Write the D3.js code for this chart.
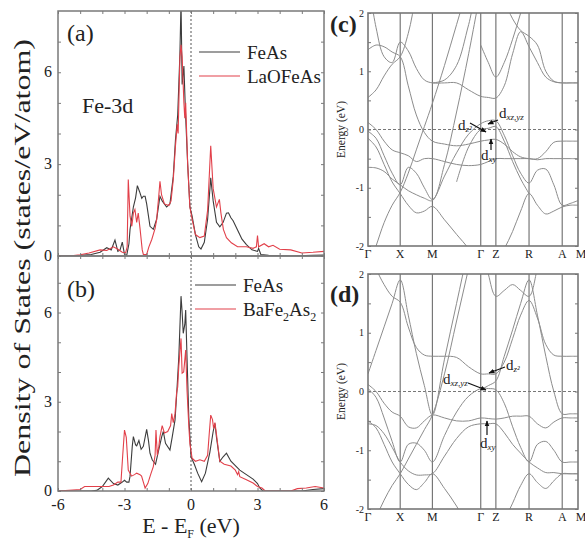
<!DOCTYPE html>
<html><head><meta charset="utf-8">
<script src="https://cdn.jsdelivr.net/npm/d3@7"></script>
<style>
body{margin:0;background:#fff}
svg{display:block}
text{font-family:"Liberation Serif","Times New Roman",serif;fill:#222}
</style></head><body>
<svg id="fig" width="585" height="540"></svg>
<script>
// ---------------- DATA ----------------
// Density of states, [E - E_F (eV), states/eV/atom]
const dosFeAsA = [[-6,0],[-5.5,0],[-5.0,0.02],[-4.5,0.05],[-4.1,0.12],[-3.8,0.27],[-3.6,0.2],[-3.43,0.52],[-3.3,0.15],[-3.2,0.2],[-3.1,0.45],[-3.0,0.05],[-2.9,0.02],[-2.8,0.4],[-2.75,0.87],[-2.6,1.6],[-2.5,1.9],[-2.42,2.3],[-2.32,2.1],[-2.22,1.88],[-2.15,1.95],[-2.07,1.95],[-2.0,1.7],[-1.85,0.97],[-1.7,0.87],[-1.55,1.2],[-1.4,1.95],[-1.3,1.8],[-1.1,1.6],[-0.95,1.7],[-0.8,2.6],[-0.7,3.8],[-0.6,4.6],[-0.5,6.6],[-0.45,8.3],[-0.4,5.6],[-0.32,6.2],[-0.25,4.7],[-0.15,3.0],[-0.05,1.6],[0.05,1.3],[0.2,0.7],[0.35,0.3],[0.45,0.23],[0.6,0.45],[0.75,1.2],[0.89,2.55],[1.0,1.8],[1.15,1.1],[1.3,0.95],[1.45,1.1],[1.6,1.4],[1.69,1.41],[1.8,1.25],[1.9,1.15],[2.1,0.85],[2.3,0.55],[2.5,0.37],[2.75,0.2],[3.0,0.15],[3.05,0.25],[3.15,0.05],[3.5,0.02],[4.5,0],[5.5,0.02],[6,0.03]];
const dosLaOFeAs = [[-6,0],[-5.5,0],[-5.0,0.04],[-4.6,0.1],[-4.1,0.2],[-3.8,0.18],[-3.5,0.3],[-3.3,0.22],[-3.1,0.12],[-2.95,0.1],[-2.88,0.3],[-2.83,2.5],[-2.75,1.3],[-2.67,0.97],[-2.6,1.4],[-2.53,1.52],[-2.45,1.1],[-2.38,1.4],[-2.3,0.9],[-2.2,0.2],[-2.15,0.05],[-2.0,0.05],[-1.9,0.3],[-1.77,0.54],[-1.62,0.9],[-1.55,1.19],[-1.45,2.0],[-1.4,2.44],[-1.33,2.0],[-1.2,1.7],[-1.0,1.65],[-0.9,1.8],[-0.8,2.5],[-0.7,3.6],[-0.62,4.3],[-0.58,4.0],[-0.5,6.5],[-0.45,6.9],[-0.4,6.5],[-0.32,5.0],[-0.28,4.5],[-0.24,5.0],[-0.15,3.0],[-0.05,1.6],[0.05,1.2],[0.2,0.7],[0.4,0.6],[0.6,0.65],[0.75,1.5],[0.89,3.6],[1.0,2.2],[1.15,1.6],[1.28,1.85],[1.35,1.4],[1.46,0.87],[1.6,0.6],[1.82,0.43],[2.1,0.3],[2.5,0.3],[2.8,0.25],[2.95,0.3],[3.0,0.67],[3.05,0.3],[3.3,0.4],[3.5,0.3],[3.7,0.35],[4.0,0.22],[4.5,0.2],[5.0,0.1],[5.5,0.12],[6.0,0.15]];
const dosFeAsB = [[-6,0],[-4.5,0],[-4.25,0.02],[-4.0,0.15],[-3.73,0.43],[-3.5,0.25],[-3.3,0.2],[-3.1,0.3],[-3.0,0.36],[-2.9,0.3],[-2.8,0.3],[-2.75,0.5],[-2.65,1.5],[-2.6,1.83],[-2.5,1.55],[-2.45,1.52],[-2.35,1.7],[-2.25,1.4],[-2.15,1.5],[-2.0,2.07],[-1.92,1.7],[-1.85,1.27],[-1.75,1.05],[-1.6,0.9],[-1.45,1.4],[-1.32,1.83],[-1.25,2.0],[-1.15,1.6],[-0.95,1.38],[-0.85,1.8],[-0.72,2.39],[-0.65,3.2],[-0.55,4.5],[-0.45,6.55],[-0.4,6.0],[-0.35,5.3],[-0.28,5.6],[-0.24,6.08],[-0.18,4.5],[-0.1,2.5],[0.0,1.15],[0.15,0.9],[0.3,0.6],[0.48,0.31],[0.65,0.6],[0.85,1.3],[1.0,2.0],[1.08,2.27],[1.15,1.8],[1.3,1.0],[1.45,1.15],[1.6,1.27],[1.8,1.0],[2.0,0.85],[2.2,0.7],[2.5,0.55],[2.8,0.4],[3.0,0.25],[3.1,0.1],[3.25,0],[5.0,0],[5.5,0.05],[6.0,0.08]];
const dosBaFe2As2 = [[-6,0],[-5.0,0.05],[-4.8,0.15],[-4.6,0.15],[-4.2,0.15],[-3.7,0.15],[-3.5,0.2],[-3.3,0.3],[-3.16,0.3],[-3.08,1.2],[-3.0,2.05],[-2.92,1.8],[-2.83,0.7],[-2.68,0.5],[-2.55,0.55],[-2.45,0.6],[-2.3,0.55],[-2.23,0.5],[-2.15,0.3],[-2.07,0.1],[-1.95,0.25],[-1.8,0.6],[-1.7,0.82],[-1.62,1.2],[-1.58,2.05],[-1.52,1.2],[-1.45,1.5],[-1.4,1.83],[-1.3,2.2],[-1.2,1.95],[-1.05,2.0],[-0.92,2.2],[-0.87,2.6],[-0.8,2.3],[-0.72,2.6],[-0.65,3.3],[-0.6,3.5],[-0.55,4.2],[-0.45,5.13],[-0.4,3.96],[-0.33,4.0],[-0.28,4.4],[-0.24,4.74],[-0.18,3.4],[-0.1,2.2],[-0.05,1.6],[0.05,1.1],[0.2,1.0],[0.4,1.05],[0.6,1.0],[0.75,1.2],[0.82,1.9],[0.89,2.55],[0.97,2.4],[1.02,2.1],[1.08,2.3],[1.15,1.9],[1.3,1.0],[1.5,0.9],[1.8,0.84],[2.0,0.7],[2.1,0.55],[2.15,0.65],[2.2,0.48],[2.5,0.38],[2.8,0.27],[3.0,0.15],[3.2,0.1],[3.35,0],[4.5,0],[4.8,0.08],[5.2,0.1],[5.6,0.15],[6.0,0.1]];

const energyTicks = [-6,-3,0,3,6];
const dosTicks = [0,3,6];

// Band structures: k-path
const kPoints = [0,1,2,3.5,3.97,5,6.03,6.52];
const kLabels = ["Γ","X","M","Γ","Z","R","A","M"];
const kSamples = [0,0.25,0.5,0.75,1,1.25,1.5,1.75,2,2.375,2.75,3.125,3.5,3.735,3.97,4.23,4.49,4.74,5,5.26,5.52,5.77,6.03,6.275,6.52];
const bandTicks = [-2,-1,0,1,2];
const _ = null;
const bandsC = [
 [2.6,1.75,1.25,1.15,1.5,1.35,1.05,0.85,0.8,0.8,0.8,0.68,0.57,0.55,0.54,0.75,1.3,1.68,1.42,1.15,0.9,0.82,0.8,0.8,0.8],
 [_,_,_,_,_,_,_,_,0.8,0.85,1.1,1.8,2.6,2.5,2.4,2.2,1.9,1.7,1.6,1.45,1.0,0.83,0.8,0.8,0.8],
 [1.37,1.45,1.42,1.33,1.25,0.75,0.25,-0.05,-0.2,-0.25,-0.28,-0.25,-0.2,-0.18,-0.17,-0.25,-0.38,-0.47,-0.5,-0.5,-0.38,-0.22,-0.2,-0.2,-0.2],
 [0.55,0.68,0.92,1.12,1.25,1.65,2.3,2.8,3.0,_,_,_,_,_,_,_,_,_,_,_,_,_,_,_,_],
 [0.12,0.0,-0.2,-0.35,-0.4,-0.45,-0.55,-0.5,-0.5,-0.55,-0.6,-0.62,-0.6,-0.55,-0.5,-0.5,-0.5,-0.5,-0.5,-0.52,-0.5,-0.5,-0.5,-0.5,-0.5],
 [-0.03,-0.15,-0.45,-0.75,-0.95,-0.65,-0.75,-1.0,-1.2,-0.8,-0.4,-0.08,0.1,0.15,0.15,-0.1,-0.45,-0.75,-0.92,-0.7,-0.68,-0.95,-1.3,-1.27,-1.22],
 [-0.15,-0.3,-0.6,-0.9,-1.1,-1.3,-1.43,-1.4,-1.32,-1.55,-1.8,-2.05,-2.4,-2.4,-2.3,-2.05,-1.75,-1.4,-1.1,-1.3,-1.45,-1.4,-1.33,-1.3,-1.3],
 [-0.65,-0.66,-0.72,-0.85,-0.95,-1.05,-1.12,-1.18,-1.22,-0.6,0.3,1.3,2.4,_,_,_,_,_,_,_,_,_,_,_,_],
 [_,_,_,_,_,_,_,_,_,_,_,_,1.45,1.15,0.9,1.15,1.55,2.0,2.5,_,_,_,_,_,_],
 [-2.4,-2.0,-1.6,-1.3,-1.08,-0.75,-0.35,0.05,0.45,1.1,1.8,2.5,_,_,_,_,_,_,_,_,_,_,_,_,_],
 [_,_,_,_,_,_,_,_,_,_,-0.9,-0.3,0.0,0.02,0.05,-0.2,-0.55,-0.85,-1.1,_,_,_,_,_,_]
];
const bandsD = [
 [2.6,2.1,1.82,1.62,1.52,1.1,0.75,0.62,0.6,0.6,0.58,0.42,0.3,0.3,0.3,0.5,0.9,1.3,1.55,1.25,0.8,0.62,0.6,0.6,0.6],
 [0.3,0.7,1.1,1.5,1.9,1.3,0.65,0.1,-0.4,0.55,1.5,2.4,3.0,_,_,_,_,_,_,_,_,_,_,_,_],
 [_,_,_,_,_,_,_,_,_,_,_,_,0.03,0.1,0.18,0.6,1.05,1.5,1.9,1.3,0.6,0.0,-0.38,-0.38,-0.38],
 [_,_,_,_,_,_,_,_,_,_,_,_,2.6,2.0,1.62,1.72,1.82,1.72,1.62,2.1,2.7,_,_,_,_],
 [0.12,0.0,-0.2,-0.35,-0.42,-0.6,-0.62,-0.5,-0.4,-0.45,-0.5,-0.5,-0.45,-0.46,-0.47,-0.45,-0.42,-0.42,-0.42,-0.55,-0.62,-0.52,-0.45,-0.45,-0.45],
 [0.05,-0.1,-0.45,-0.85,-1.2,-0.9,-0.88,-1.0,-1.2,-0.75,-0.35,-0.08,0.05,0.05,0.03,-0.2,-0.6,-0.95,-1.2,-0.9,-0.85,-1.0,-1.2,-1.2,-1.2],
 [-0.5,-0.62,-0.9,-1.2,-1.4,-1.58,-1.67,-1.55,-1.4,-1.65,-1.95,-2.3,-2.6,-2.6,-2.5,-2.2,-1.9,-1.6,-1.4,-1.55,-1.65,-1.52,-1.4,-1.4,-1.4],
 [-0.55,-0.58,-0.72,-0.95,-1.2,-1.35,-1.42,-1.42,-1.4,-1.1,-0.8,-0.6,-0.55,-0.55,-0.55,-0.7,-0.9,-1.05,-1.2,-1.3,-1.38,-1.38,-1.4,-1.4,-1.4],
 [-2.5,-2.15,-1.85,-1.6,-1.4,-1.15,-0.9,-0.65,-0.4,0.3,1.2,2.1,3.0,_,_,_,_,_,_,_,_,_,_,_,_]
];

// ---------------- DRAWING ----------------
const svg = d3.select("#fig");
const frameCol = "#7a7a7a";
const blackCol = "#3c3c3c", redCol = "#e2404a";

const x = d3.scaleLinear().domain([-6,6]).range([58,324]);
const yA = d3.scaleLinear().domain([0,8]).range([256,11]);
const yB = d3.scaleLinear().domain([0,7.9]).range([491,256]);

function dosPanel(id, y, series, colors, names, label, labY, legY, legX){
  const g = svg.append("g");
  const [y0,y1] = y.range();
  g.append("clipPath").attr("id","clip"+id).append("rect")
    .attr("x",x.range()[0]).attr("y",y1).attr("width",x.range()[1]-x.range()[0]).attr("height",y0-y1);
  g.append("line").attr("x1",x(0)).attr("x2",x(0)).attr("y1",y1).attr("y2",y0)
    .attr("stroke","#555").attr("stroke-width",1).attr("stroke-dasharray","2,2");
  const line = d3.line().x(d=>x(d[0])).y(d=>y(d[1]));
  series.forEach((s,i)=>{
    g.append("path").datum(s).attr("d",line).attr("fill","none")
      .attr("stroke",colors[i]).attr("stroke-width",1.1).attr("clip-path","url(#clip"+id+")");
  });
  const minorY = d3.range(0,8,1);
  const minorX = d3.range(-6,6.01,1);
  g.append("g").attr("transform",`translate(${x.range()[0]},0)`)
    .call(d3.axisLeft(y).tickValues(minorY).tickSize(-3).tickFormat(""))
    .call(a=>a.select(".domain").remove()).selectAll("line").attr("stroke",frameCol);
  g.append("g").attr("transform",`translate(${x.range()[1]},0)`)
    .call(d3.axisRight(y).tickValues(minorY).tickSize(-3).tickFormat(""))
    .call(a=>a.select(".domain").remove()).selectAll("line").attr("stroke",frameCol);
  g.append("g").attr("transform",`translate(0,${y0})`)
    .call(d3.axisBottom(x).tickValues(minorX).tickSize(-3).tickFormat(""))
    .call(a=>a.select(".domain").remove()).selectAll("line").attr("stroke",frameCol);
  g.append("g").attr("transform",`translate(0,${y1})`)
    .call(d3.axisTop(x).tickValues(minorX).tickSize(-3).tickFormat(""))
    .call(a=>a.select(".domain").remove()).selectAll("line").attr("stroke",frameCol);
  g.selectAll(".yl").data(dosTicks).enter().append("text")
    .attr("x",x.range()[0]-6).attr("y",d=>y(d)+5).attr("text-anchor","end")
    .attr("font-size",16).text(d=>d);
  g.append("rect").attr("x",x.range()[0]).attr("y",y1).attr("width",x.range()[1]-x.range()[0])
    .attr("height",y0-y1).attr("fill","none").attr("stroke",frameCol).attr("stroke-width",1.5);
  g.append("text").attr("x",67).attr("y",labY).attr("font-size",24).text(label);
  names.forEach((n,i)=>{
    g.append("line").attr("x1",legX).attr("x2",legX+41).attr("y1",legY+i*24).attr("y2",legY+i*24)
      .attr("stroke",colors[i]).attr("stroke-width",1.2);
    const t = g.append("text").attr("x",legX+48).attr("y",legY+i*24+7).attr("font-size",19);
    n.forEach(part=>{
      const ts = t.append("tspan").text(part.t);
      if(part.sub){ ts.attr("font-size",12).attr("dy",5); }
      if(part.up){ ts.attr("dy",-5); }
    });
  });
  return g;
}

dosPanel("a", yA, [dosFeAsA, dosLaOFeAs], [blackCol, redCol],
  [[{t:"FeAs"}],[{t:"LaOFeAs"}]], "(a)", 41, 52, 199);
svg.append("text").attr("x",82).attr("y",113).attr("font-size",22).text("Fe-3d");
dosPanel("b", yB, [dosFeAsB, dosBaFe2As2], [blackCol, redCol],
  [[{t:"FeAs"}],[{t:"BaFe"},{t:"2",sub:true},{t:"As",up:true},{t:"2",sub:true}]], "(b)", 297, 285, 195);

svg.selectAll(".xl").data(energyTicks).enter().append("text")
  .attr("x",d=>x(d)).attr("y",510).attr("text-anchor","middle").attr("font-size",16)
  .text(d=>d);
const xt = svg.append("text").attr("x",x(0)).attr("y",533).attr("text-anchor","middle").attr("font-size",22);
xt.append("tspan").text("E - E");
xt.append("tspan").text("F").attr("font-size",12).attr("dy",5);
xt.append("tspan").text(" (eV)").attr("dy",-5);
svg.append("text").attr("transform","translate(30,258) rotate(-90)")
  .attr("text-anchor","middle").attr("font-size",23)
  .attr("textLength",438).attr("lengthAdjust","spacingAndGlyphs")
  .text("Density of States (states/eV/atom)");

// ---------- band panels ----------
const xk = d3.scaleLinear().domain([0,6.52]).range([368,578]);
const yC = d3.scaleLinear().domain([-2,2]).range([246,13]);
const yD = d3.scaleLinear().domain([-2,2]).range([509,274]);

svg.append("defs").append("marker").attr("id","arr").attr("viewBox","0 0 10 10")
  .attr("refX",9).attr("refY",5).attr("markerWidth",5).attr("markerHeight",5).attr("orient","auto")
  .append("path").attr("d","M0,1 L10,5 L0,9 z").attr("fill","#111");

function bandPanel(id, y, bands, label, labY, notes){
  const g = svg.append("g");
  const [y0,y1] = y.range();
  const [xa,xb] = xk.range();
  g.append("clipPath").attr("id","clip"+id).append("rect")
    .attr("x",xa).attr("y",y1).attr("width",xb-xa).attr("height",y0-y1);
  g.selectAll(".sym").data(kPoints.slice(1,-1)).enter().append("line")
    .attr("x1",d=>xk(d)).attr("x2",d=>xk(d)).attr("y1",y1).attr("y2",y0)
    .attr("stroke","#777").attr("stroke-width",1.2);
  g.append("line").attr("x1",xa).attr("x2",xb).attr("y1",y(0)).attr("y2",y(0))
    .attr("stroke","#777").attr("stroke-width",1).attr("stroke-dasharray","3,2");
  const line = d3.line().defined(d=>d[1]!==null).x(d=>xk(d[0])).y(d=>y(d[1]))
    .curve(d3.curveCatmullRom.alpha(0.5));
  bands.forEach(b=>{
    g.append("path").datum(b.map((v,i)=>[kSamples[i],v])).attr("d",line)
      .attr("fill","none").attr("stroke","#8c8c8c").attr("stroke-width",1)
      .attr("clip-path","url(#clip"+id+")");
  });
  const minor = d3.range(-2,2.01,0.5);
  g.append("g").attr("transform",`translate(${xa},0)`)
    .call(d3.axisLeft(y).tickValues(minor).tickSize(-3).tickFormat(""))
    .call(a=>a.select(".domain").remove()).selectAll("line").attr("stroke","#777");
  g.append("g").attr("transform",`translate(${xb},0)`)
    .call(d3.axisRight(y).tickValues(minor).tickSize(-3).tickFormat(""))
    .call(a=>a.select(".domain").remove()).selectAll("line").attr("stroke","#777");
  g.selectAll(".yl").data(bandTicks).enter().append("text")
    .attr("x",xa-4).attr("y",d=>y(d)+3.5).attr("text-anchor","end").attr("font-size",10)
    .text(d=>d);
  g.append("rect").attr("x",xa).attr("y",y1).attr("width",xb-xa).attr("height",y0-y1)
    .attr("fill","none").attr("stroke","#777").attr("stroke-width",1.6);
  g.selectAll(".kl").data(kPoints).enter().append("text")
    .attr("x",(d,i)=>xk(d)+(i===7?3:0)).attr("y",y0+12).attr("text-anchor","middle")
    .attr("font-size",12).text((d,i)=>kLabels[i]);
  g.append("text").attr("transform",`translate(345,${y(0)}) rotate(-90)`)
    .attr("text-anchor","middle").attr("font-size",11.5).text("Energy (eV)");
  g.append("text").attr("x",330).attr("y",labY).attr("font-size",24).attr("font-weight","bold").text(label);
  notes.forEach(n=>{
    g.append("line").attr("x1",n.ax1).attr("y1",n.ay1).attr("x2",n.ax2).attr("y2",n.ay2)
      .attr("stroke","#111").attr("stroke-width",1.2).attr("marker-end","url(#arr)");
    const t = g.append("text").attr("x",n.tx).attr("y",n.ty).attr("font-size",15);
    t.append("tspan").text("d");
    t.append("tspan").text(n.sub).attr("font-size",9).attr("dy",2).attr("font-style","italic");
  });
}

bandPanel("c", yC, bandsC, "(c)", 32, [
  {sub:"z²", tx:458, ty:130, ax1:470, ay1:123, ax2:486, ay2:132},
  {sub:"xz,yz", tx:499, ty:118, ax1:498, ay1:120, ax2:488, ay2:124},
  {sub:"xy", tx:481, ty:160, ax1:491, ay1:150, ax2:491, ay2:139}
]);
bandPanel("d", yD, bandsD, "(d)", 302, [
  {sub:"xz,yz", tx:443, ty:384, ax1:468, ay1:383, ax2:486, ay2:390},
  {sub:"z²", tx:506, ty:370, ax1:505, ay1:367, ax2:489, ay2:373},
  {sub:"xy", tx:480, ty:448, ax1:487, ay1:435, ax2:487, ay2:421}
]);
</script>
</body></html>
